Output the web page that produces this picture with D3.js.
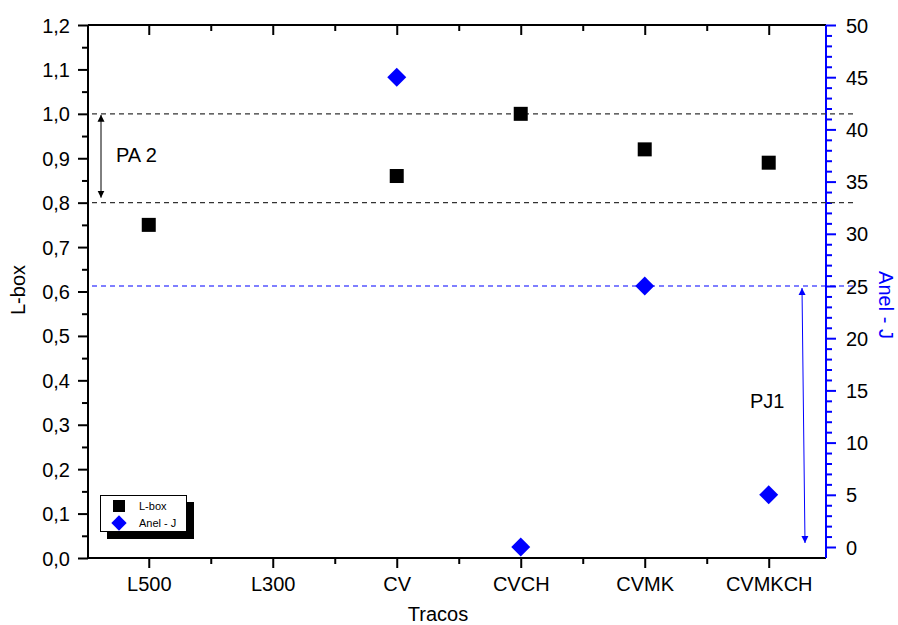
<!DOCTYPE html>
<html><head><meta charset="utf-8">
<script src="https://cdn.jsdelivr.net/npm/d3@7"></script>
<style>body{margin:0;background:#fff;} text{font-family:Arial,"Liberation Sans",sans-serif;}</style>
</head><body><svg id="c" width="898" height="625"></svg>
<script>
const categories = ["L500","L300","CV","CVCH","CVMK","CVMKCH"];
const lboxValues = [0.75, null, 0.86, 1.00, 0.92, 0.89];
const anelValues = [null, null, 45, 0, 25, 5];
const leftTicks = [0,0.1,0.2,0.3,0.4,0.5,0.6,0.7,0.8,0.9,1.0,1.1,1.2];
const rightTicks = [0,5,10,15,20,25,30,35,40,45,50];
const refLines = [1.0, 0.8];
const pjLimit = 25;

const svg = d3.select("#c");
const L=88, R=826, T=25, B=558;
const x = d3.scaleLinear().domain([0.51,6.462]).range([L,R]);
const y = d3.scaleLinear().domain([0,1.2]).range([B,T]);
const y2 = d3.scaleLinear().domain([0,50]).range([547,25]);
const fmt = d => d3.format(".1f")(d).replace(".",",");

// left axis
const gl = svg.append("g").attr("transform",`translate(${L},0)`);
gl.call(d3.axisLeft(y).tickValues(leftTicks).tickFormat(fmt).tickSize(10).tickSizeOuter(0));
gl.append("g").call(d3.axisLeft(y).tickValues(d3.range(0.05,1.2,0.1)).tickFormat("").tickSize(6).tickSizeOuter(0));
// right axis
const gr = svg.append("g").attr("transform",`translate(${R},0)`);
gr.call(d3.axisRight(y2).tickValues(rightTicks).tickSize(10).tickSizeOuter(0));
gr.append("g").call(d3.axisRight(y2).tickValues(d3.range(0,51,1).filter(v=>v%5)).tickFormat("").tickSize(6).tickSizeOuter(0));
gr.selectAll("line").attr("stroke","#0000ff").attr("stroke-width",2);
gr.selectAll("path").remove();
// bottom axis
const gb = svg.append("g").attr("transform",`translate(0,${B})`);
gb.call(d3.axisBottom(x).tickValues(d3.range(1,7)).tickFormat(i=>categories[i-1]).tickSize(10).tickSizeOuter(0));
gb.append("g").call(d3.axisBottom(x).tickValues([1.5,2.5,3.5,4.5,5.5]).tickFormat("").tickSize(6).tickSizeOuter(0));
// top axis
const gt = svg.append("g").attr("transform",`translate(0,${T})`);
gt.call(d3.axisBottom(x).tickValues(d3.range(1,7)).tickFormat("").tickSize(10).tickSizeOuter(0));
gt.append("g").call(d3.axisBottom(x).tickValues([1.5,2.5,3.5,4.5,5.5]).tickFormat("").tickSize(6).tickSizeOuter(0));
gt.selectAll("path").remove();

[gl,gb,gt].forEach(g=>{g.selectAll("line").attr("stroke","#000").attr("stroke-width",2);});
svg.selectAll(".domain").remove();
svg.selectAll(".tick text").attr("font-size",20).attr("fill","#000").attr("font-family","Arial, 'Liberation Sans', sans-serif");
gl.selectAll(".tick text").attr("x",-18).attr("dy","0.35em");
gr.selectAll(".tick text").attr("x",20).attr("dy","0.35em");
gb.selectAll(".tick text").attr("y",19).attr("dy","0.71em");

// frame lines
svg.append("line").attr("x1",L).attr("x2",L).attr("y1",T).attr("y2",B).attr("stroke","#000").attr("stroke-width",2);
svg.append("line").attr("x1",L).attr("x2",R).attr("y1",B).attr("y2",B).attr("stroke","#000").attr("stroke-width",2);
svg.append("line").attr("x1",L).attr("x2",R).attr("y1",T).attr("y2",T).attr("stroke","#000").attr("stroke-width",2);
svg.append("line").attr("x1",R).attr("x2",R).attr("y1",T).attr("y2",B).attr("stroke","#0000ff").attr("stroke-width",2);

// reference lines
refLines.forEach(v=>svg.append("line").attr("x1",L+4).attr("x2",856).attr("y1",y(v)).attr("y2",y(v))
  .attr("stroke","#333").attr("stroke-width",1.2).attr("stroke-dasharray","5,4"));
svg.append("line").attr("x1",L+4).attr("x2",856).attr("y1",y2(pjLimit)).attr("y2",y2(pjLimit))
  .attr("stroke","#0000ff").attr("stroke-width",1.2).attr("stroke-dasharray","5,4");

// arrows
const defs = svg.append("defs");
function marker(id,color){
  defs.append("marker").attr("id",id).attr("viewBox","0 0 10 10").attr("refX",10).attr("refY",5)
   .attr("markerWidth",7).attr("markerHeight",14).attr("markerUnits","userSpaceOnUse").attr("orient","auto-start-reverse")
   .append("path").attr("d","M0,0 L10,5 L0,10 Z").attr("fill",color);
}
marker("ab","#000"); marker("abl","#0000ff");
svg.append("line").attr("x1",101).attr("x2",101).attr("y1",y(1.0)+1).attr("y2",y(0.8)-5)
  .attr("stroke","#000").attr("stroke-width",1).attr("marker-start","url(#ab)").attr("marker-end","url(#ab)");
svg.append("text").attr("x",116).attr("y",162).attr("font-size",20).text("PA 2");
svg.append("line").attr("x1",802).attr("x2",805).attr("y1",y2(pjLimit)+2).attr("y2",543)
  .attr("stroke","#0000ff").attr("stroke-width",1).attr("marker-start","url(#abl)").attr("marker-end","url(#abl)");
svg.append("text").attr("x",750).attr("y",408).attr("font-size",20).text("PJ1");

// points
const sq = 14;
svg.append("g").selectAll("rect").data(lboxValues.map((v,i)=>({v,i})).filter(d=>d.v!=null)).join("rect")
  .attr("x",d=>x(d.i+1)-sq/2).attr("y",d=>y(d.v)-sq/2).attr("width",sq).attr("height",sq).attr("fill","#000");
const dia = d3.symbol().type(d3.symbolDiamond2).size(230);
svg.append("g").selectAll("path").data(anelValues.map((v,i)=>({v,i})).filter(d=>d.v!=null)).join("path")
  .attr("transform",d=>`translate(${x(d.i+1)},${y2(d.v)})`).attr("d",dia).attr("fill","#0000ff");

// legend
svg.append("rect").attr("x",107).attr("y",502).attr("width",87).attr("height",37).attr("fill","#000");
svg.append("rect").attr("x",100.5).attr("y",495.5).attr("width",86).attr("height",36).attr("fill","#fff").attr("stroke","#000").attr("stroke-width",1);
svg.append("rect").attr("x",113).attr("y",500).attr("width",12).attr("height",12).attr("fill","#000");
svg.append("path").attr("transform","translate(119,523)").attr("d",d3.symbol().type(d3.symbolDiamond2).size(150)).attr("fill","#0000ff");
svg.append("text").attr("x",139).attr("y",510).attr("font-size",11).text("L-box");
svg.append("text").attr("x",139).attr("y",527).attr("font-size",11).text("Anel - J");

// axis titles
svg.append("text").attr("transform","translate(25,290) rotate(-90)").attr("text-anchor","middle").attr("font-size",20).text("L-box");
svg.append("text").attr("transform","translate(879,305) rotate(90)").attr("text-anchor","middle").attr("font-size",20).attr("fill","#0000ff").text("Anel - J");
svg.append("text").attr("x",438).attr("y",621).attr("text-anchor","middle").attr("font-size",20).text("Tracos");
</script></body></html>
